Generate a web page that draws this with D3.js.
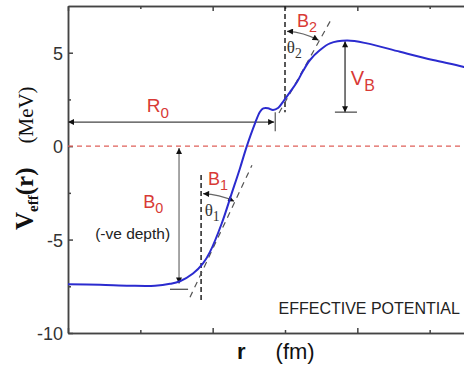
<!DOCTYPE html>
<html>
<head>
<meta charset="utf-8">
<script src="https://cdn.jsdelivr.net/npm/d3@7"></script>
<style>
  body { margin: 0; background: #fff; }
  svg { display: block; overflow: hidden; }
  .axis text { font-family: 'Liberation Sans', Arial, sans-serif; font-size: 18px; fill: #333; }
  .axis path, .axis line { stroke: #444; stroke-width: 1.5; }
</style>
</head>
<body>
<svg id="chart"></svg>
<script>
// r (fm) and V_eff (MeV)
const rValues = [0, 0.885, 1.714, 2.406, 2.82, 3.097, 3.456, 3.733, 3.926, 4.25, 4.526, 4.756,
  4.936, 5.171, 5.309, 5.4, 5.53, 5.668, 5.807, 5.945, 6.138, 6.332, 6.498, 6.692, 6.968,
  7.244, 7.715, 8.268, 9.18, 10.093, 10.922, 12];
const vValues = [-7.39, -7.42, -7.47, -7.47, -7.37, -7.23, -6.82, -6.28, -5.66, -4.14, -2.53, -1.18,
  -0.05, 1.22, 1.84, 2.02, 2.03, 1.94, 2.04, 2.37, 2.89, 3.43, 4.02, 4.61, 5.14,
  5.5, 5.65, 5.5, 5.05, 4.61, 4.25, 3.7];

const yMajorTicks = [-10, -5, 0, 5];
const yMinorTicks = [-7.5, -2.5, 2.5];
const xMajorTicks = [0, 4, 8, 12];
const xMinorTicks = [2, 6, 10];

// annotation geometry, in data units
const r0Arrow = { x1: 0, x2: 5.7, y: 1.29 };
const r0Bar = { x: 5.73, y1: 0.8, y2: 1.82 };
const b0Arrow = { x: 3.07, y1: -0.1, y2: -7.35 };
const b0Bar = { x1: 2.82, x2: 3.32, y: -7.66 };
const b1Vertical = { x: 3.68, y1: -1.55, y2: -8.3 };
const b1Tangent = { x1: 3.373, y1: -8.09, x2: 5.087, y2: -1.02 };
const b2Vertical = { x: 6, y1: 7.5, y2: 1.82 };
const b2Tangent = { x1: 5.834, y1: 1.77, x2: 7.299, y2: 6.86 };
const vbArrow = { x: 7.66, y1: 5.62, y2: 1.82 };
const vbBar = { x1: 7.38, x2: 7.99, y: 1.82 };

const width = 464;
const height = 366;
const margin = { top: 6, left: 68, bottom: 33 };
const red = '#d83a36';

const svg = d3.select('#chart').attr('width', width).attr('height', height);

const x = d3.scaleLinear().domain([0, 12]).range([margin.left, 502]);
const y = d3.scaleLinear().domain([-10, 7.5]).range([height - margin.bottom, margin.top]);

// arrow markers
const defs = svg.append('defs');
defs.append('marker')
  .attr('id', 'arrow')
  .attr('viewBox', '0 0 10 10')
  .attr('refX', 10).attr('refY', 5)
  .attr('markerWidth', 8).attr('markerHeight', 6)
  .attr('markerUnits', 'userSpaceOnUse')
  .attr('orient', 'auto-start-reverse')
  .append('path')
  .attr('d', 'M0,0 L10,5 L0,10 Z')
  .attr('fill', '#111');

// axes (ticks pointing inward)
const addAxis = (gen, transform, ticks, size, labels) => {
  const g = svg.append('g')
    .attr('class', 'axis')
    .attr('transform', transform)
    .call(gen.tickValues(ticks).tickSizeInner(size).tickSizeOuter(0).tickPadding(5)
      .tickFormat(labels ? (d) => String(d) : ''));
  return g;
};
const bottomY = y(-10);
addAxis(d3.axisLeft(y), `translate(${margin.left},0)`, yMajorTicks, -5, true);
addAxis(d3.axisLeft(y), `translate(${margin.left},0)`, yMinorTicks, -3, false);
addAxis(d3.axisBottom(x), `translate(0,${bottomY})`, xMajorTicks, -5, false);
addAxis(d3.axisBottom(x), `translate(0,${bottomY})`, xMinorTicks, -3, false);
addAxis(d3.axisTop(x), `translate(0,${margin.top})`, xMajorTicks, -5, false);
addAxis(d3.axisTop(x), `translate(0,${margin.top})`, xMinorTicks, -3, false);
svg.selectAll('.axis text').attr('dy', '0.36em');

// zero line
svg.append('line')
  .attr('x1', x(0)).attr('x2', x(12))
  .attr('y1', y(0)).attr('y2', y(0))
  .attr('stroke', '#e0605a').attr('stroke-width', 1.3)
  .attr('stroke-dasharray', '5,4');

// guide lines
const seg = (x1, y1, x2, y2, stroke, w, dash, arrows) => {
  const l = svg.append('line')
    .attr('x1', x(x1)).attr('y1', y(y1))
    .attr('x2', x(x2)).attr('y2', y(y2))
    .attr('stroke', stroke).attr('stroke-width', w);
  if (dash) l.attr('stroke-dasharray', dash);
  if (arrows) l.attr('marker-start', 'url(#arrow)').attr('marker-end', 'url(#arrow)');
  return l;
};

seg(r0Arrow.x1, r0Arrow.y, r0Arrow.x2, r0Arrow.y, '#444', 1.3, null, true);
seg(r0Bar.x, r0Bar.y1, r0Bar.x, r0Bar.y2, '#555', 1.2);
seg(b0Arrow.x, b0Arrow.y1, b0Arrow.x, b0Arrow.y2, '#777', 1.3, null, true);
seg(b0Bar.x1, b0Bar.y, b0Bar.x2, b0Bar.y, '#444', 1.2);
seg(b1Vertical.x, b1Vertical.y1, b1Vertical.x, b1Vertical.y2, '#222', 1.5, '5,3');
seg(b1Tangent.x1, b1Tangent.y1, b1Tangent.x2, b1Tangent.y2, '#555', 1.2, '6,5');
seg(b2Vertical.x, b2Vertical.y1, b2Vertical.x, b2Vertical.y2, '#222', 1.5, '5,3');
seg(b2Tangent.x1, b2Tangent.y1, b2Tangent.x2, b2Tangent.y2, '#555', 1.2, '6,5');
seg(vbArrow.x, vbArrow.y1, vbArrow.x, vbArrow.y2, '#222', 1.2, null, true);
seg(vbBar.x1, vbBar.y, vbBar.x2, vbBar.y, '#444', 1.2);

// angle arcs between vertical line and tangent
const angleArc = (vert, tan, radius) => {
  const tx1 = x(tan.x1), ty1 = y(tan.y1), tx2 = x(tan.x2), ty2 = y(tan.y2);
  const cx = x(vert.x);
  const cy = ty1 + (cx - tx1) * (ty2 - ty1) / (tx2 - tx1);
  const a = Math.atan2(tx2 - tx1, ty1 - ty2);
  const sx = cx, sy = cy - radius;
  const ex = cx + radius * Math.sin(a) - 1, ey = cy - radius * Math.cos(a);
  svg.append('path')
    .attr('d', `M${sx + 2},${sy} A${radius},${radius} 0 0 1 ${ex},${ey}`)
    .attr('fill', 'none')
    .attr('stroke', '#666').attr('stroke-width', 1.3)
    .attr('marker-start', 'url(#arrow)').attr('marker-end', 'url(#arrow)');
};
angleArc(b1Vertical, b1Tangent, 80);
angleArc(b2Vertical, b2Tangent, 71);

// potential curve
const pts = rValues.map((r, i) => [r, vValues[i]]);
const line = d3.line()
  .x(d => x(d[0]))
  .y(d => y(d[1]))
  .curve(d3.curveCatmullRom.alpha(0.5));
svg.append('path')
  .datum(pts)
  .attr('d', line)
  .attr('fill', 'none')
  .attr('stroke', '#2b2bcf')
  .attr('stroke-width', 2);

// labels
const label = (px, py, main, sub, size, color, family, style) => {
  const t = svg.append('text')
    .attr('x', px).attr('y', py)
    .attr('font-family', family || "'Liberation Sans', Arial, sans-serif")
    .attr('font-size', size)
    .attr('fill', color);
  if (style) t.attr('font-style', style);
  t.append('tspan').text(main);
  if (sub) t.append('tspan').attr('dy', size * 0.3).attr('font-size', size * 0.8).text(sub);
  return t;
};
label(x(2.18), y(1.82), 'R', '0', 19, red);
label(x(2.08), y(-3.3), 'B', '0', 18, red);
label(x(0.75), y(-4.98), '(-ve depth)', null, 15.5, '#222');
label(x(3.87), y(-2.08), 'B', '1', 18, red);
label(x(3.78), y(-3.72), 'θ', '1', 17, '#333', "'Liberation Serif', 'Times New Roman', serif");
label(x(6.33), y(6.4), 'B', '2', 18, red);
label(x(6.05), y(5.0), 'θ', '2', 17, '#333', "'Liberation Serif', 'Times New Roman', serif");
label(x(7.82), y(3.27), 'V', 'B', 20, red);
svg.append('text')
  .attr('x', x(5.82)).attr('y', y(-8.98))
  .attr('font-family', "'Liberation Sans', Arial, sans-serif")
  .attr('font-size', 16)
  .attr('fill', '#222')
  .text('EFFECTIVE POTENTIAL');

// axis titles
const yTitle = svg.append('text')
  .attr('transform', 'translate(33,230) rotate(-90)')
  .attr('font-family', "'Liberation Serif', 'Times New Roman', serif")
  .attr('fill', '#111');
yTitle.append('tspan').attr('font-size', 25).attr('font-weight', 'bold').text('V');
yTitle.append('tspan').attr('font-size', 15).attr('font-weight', 'bold').attr('dy', 5).text('eff');
yTitle.append('tspan').attr('font-size', 25).attr('font-weight', 'bold').attr('dy', -5).text('(r)');
yTitle.append('tspan').attr('font-size', 21).attr('dx', 24).text('(MeV)');

const xTitle = svg.append('text')
  .attr('x', 237).attr('y', 359)
  .attr('font-family', "'Liberation Sans', Arial, sans-serif")
  .attr('fill', '#111');
xTitle.append('tspan').attr('font-size', 22).attr('font-weight', 'bold').text('r');
xTitle.append('tspan').attr('font-size', 22).attr('dx', 30).text('(fm)');
</script>
</body>
</html>
